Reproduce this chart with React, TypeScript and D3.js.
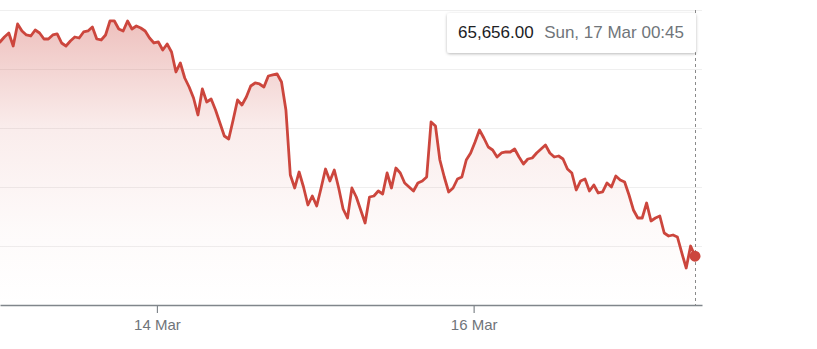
import React, { useEffect, useRef } from "react";
import * as d3 from "d3";

// Price series (USD), sampled at a fixed interval
const prices: number[] = [
  72916, 73085, 73221, 72780, 73526, 73289, 73153, 73119, 73323, 73221,
  73017, 73017, 73153, 73187, 72882, 72780, 72950, 73085, 73051, 73255,
  73289, 73424, 73017, 72984, 73153, 73628, 73628, 73356, 73289, 73628,
  73356, 73458, 73390, 73289, 73051, 72882, 72916, 72645, 72848, 72577,
  71899, 72204, 71695, 71390, 71017, 70441, 71322, 70882, 70983, 70611,
  70170, 69729, 69627, 70272, 70950, 70780, 71051, 71424, 71526, 71492,
  71390, 71763, 71797, 71831, 71560, 70611, 68407, 67966, 68509, 68000,
  67390, 67695, 67356, 67966, 68610, 68204, 68577, 67966, 67254, 66949,
  67966, 67661, 67221, 66780, 67661, 67695, 67865, 67763, 68475, 67966,
  68644, 68475, 68136, 68000, 67865, 68136, 68204, 68339, 70204, 70068,
  68916, 68339, 67831, 67966, 68271, 68339, 68916, 69153, 69526, 69933,
  69661, 69356, 69255, 69017, 69153, 69187, 69187, 69288, 69017, 68780,
  68949, 68983, 69153, 69288, 69424, 69153, 69017, 69051, 68949, 68610,
  68475, 67899, 68204, 68271, 67865, 68068, 67797, 67831, 68136, 68000,
  68373, 68238, 68170, 67729, 67221, 66949, 66949, 67458, 66848, 66949,
  67017, 66441, 66339, 66373, 66305, 65763, 65254, 66000, 65656,
];
const startTime = Date.UTC(2024, 2, 13, 0, 13);
const stepMinutes = 40;
const gridValues: number[] = [66000, 68000, 70000, 72000, 74000];
const yDomain: [number, number] = [64000, 74000];
const xTickDates: number[] = [Date.UTC(2024, 2, 14), Date.UTC(2024, 2, 16)];
const tooltipValue = "65,656.00";
const tooltipDate = "Sun, 17 Mar 00:45";

const W = 817;
const H = 349;
const LINE = "#cc463d";
const FONT = "Arial, 'Liberation Sans', Helvetica, sans-serif";

type Pt = { t: Date; v: number };
const data: Pt[] = prices.map((v, i) => ({
  t: new Date(startTime + i * stepMinutes * 60000),
  v,
}));

export default function App() {
  const axisRef = useRef<SVGGElement>(null);

  const x = d3
    .scaleTime()
    .domain([data[0].t, data[data.length - 1].t])
    .range([0, 695]);
  const y = d3.scaleLinear().domain(yDomain).range([305, 10]);
  const plotRight = 702;
  const axisScale = x
    .copy()
    .domain([x.invert(0), x.invert(plotRight)])
    .range([0, plotRight]);

  useEffect(() => {
    if (!axisRef.current) return;
    const g = d3.select(axisRef.current);
    g.selectAll("*").remove();
    g.call(
      d3
        .axisBottom(axisScale)
        .tickValues(xTickDates.map((d) => new Date(d)))
        .tickFormat((d) => d3.utcFormat("%-d %b")(d as Date))
        .tickSize(8)
        .tickSizeOuter(0)
        .tickPadding(6)
    );
    g.select(".domain").attr("stroke", "#80868b").attr("stroke-width", 1.5);
    g.selectAll(".tick line").attr("stroke", "#80868b").attr("stroke-width", 1.2);
    g.selectAll(".tick text")
      .attr("fill", "#70757a")
      .attr("font-size", 15)
      .attr("font-family", FONT);
  }, []);

  const line = d3
    .line<Pt>()
    .x((d) => x(d.t))
    .y((d) => y(d.v));
  const area = d3
    .area<Pt>()
    .x((d) => x(d.t))
    .y0(y(yDomain[0]))
    .y1((d) => y(d.v));

  const last = data[data.length - 1];
  const lx = x(last.t);
  const ly = y(last.v);

  return (
    <svg
      width={W}
      height={H}
      style={{ position: "absolute", left: 0, top: 0, background: "#fff" }}
    >
      <defs>
        <linearGradient id="fillGrad" gradientUnits="userSpaceOnUse" x1="0" y1="10" x2="0" y2="305">
          <stop offset="0" stopColor={LINE} stopOpacity={0.36} />
          <stop offset="0.4" stopColor={LINE} stopOpacity={0.1} />
          <stop offset="0.75" stopColor={LINE} stopOpacity={0.025} />
          <stop offset="1" stopColor={LINE} stopOpacity={0.0} />
        </linearGradient>
        <filter id="shadow" x="-10%" y="-30%" width="120%" height="170%">
          <feDropShadow dx="0" dy="1" stdDeviation="1.5" floodColor="#000" floodOpacity="0.28" />
        </filter>
      </defs>

      {gridValues.map((v) => (
        <line
          key={v}
          x1={0}
          x2={plotRight}
          y1={Math.round(y(v)) + 0.5}
          y2={Math.round(y(v)) + 0.5}
          stroke="#efefef"
          strokeWidth={1}
        />
      ))}

      <path d={area(data) || ""} fill="url(#fillGrad)" />
      <path
        d={line(data) || ""}
        fill="none"
        stroke={LINE}
        strokeWidth={2.8}
        strokeLinejoin="round"
        strokeLinecap="round"
      />

      <g ref={axisRef} transform={`translate(0,${y(yDomain[0])})`} />

      <line
        x1={lx + 0.5}
        x2={lx + 0.5}
        y1={10}
        y2={305}
        stroke="#8a8a8a"
        strokeWidth={1}
        strokeDasharray="3,3"
      />
      <circle cx={lx} cy={ly} r={5.5} fill={LINE} />

      <g>
        <rect
          x={447}
          y={13}
          width={lx + 1 - 447}
          height={40}
          rx={3}
          fill="#fff"
          filter="url(#shadow)"
        />
        <text x={458} y={38} fontFamily={FONT} fontSize={17} fill="#202124">
          {tooltipValue}
        </text>
        <text x={684} y={38} textAnchor="end" fontFamily={FONT} fontSize={17} fill="#70757a">
          {tooltipDate}
        </text>
      </g>
    </svg>
  );
}
